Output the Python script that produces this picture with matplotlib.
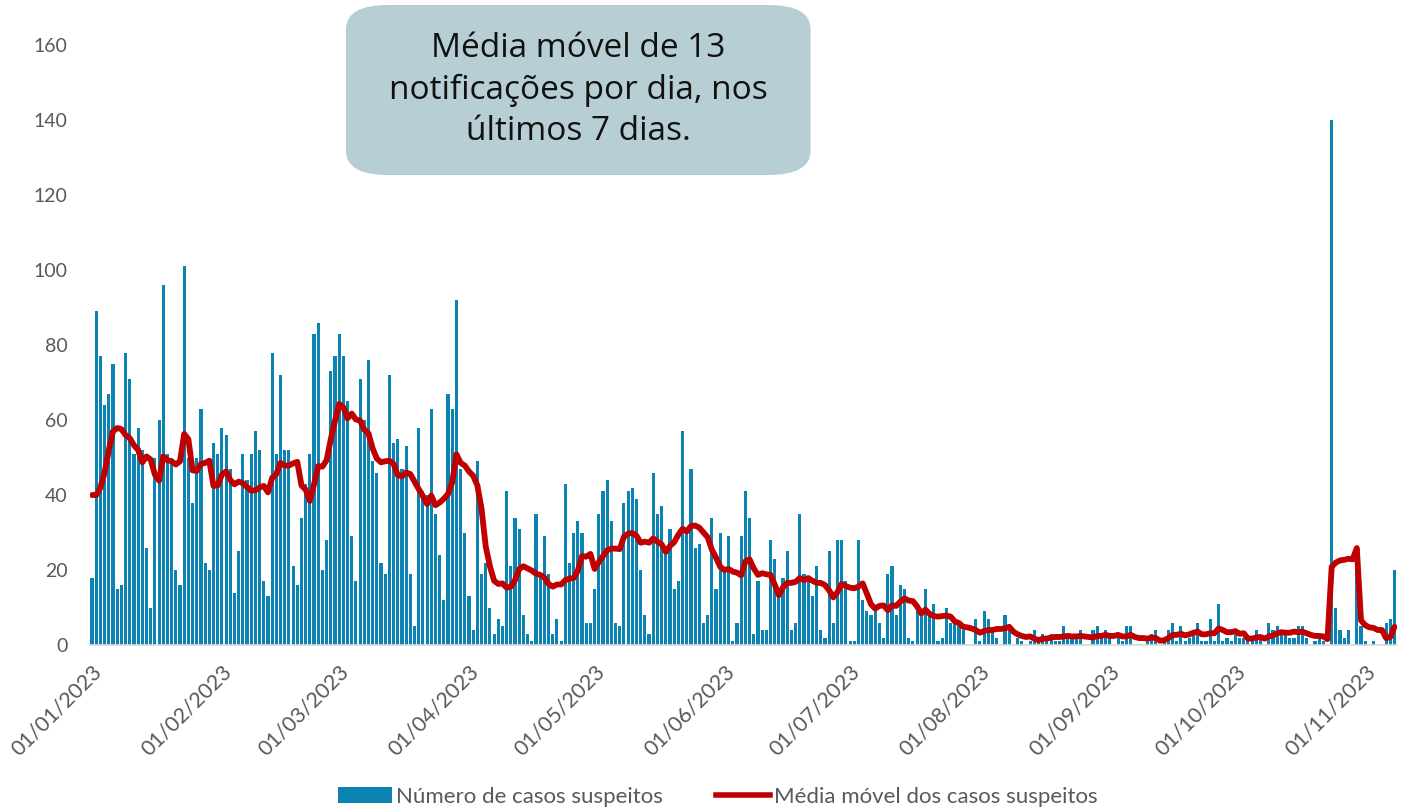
import matplotlib.pyplot as plt
import matplotlib.dates as mdates
from matplotlib.patches import FancyBboxPatch, Patch
from matplotlib.lines import Line2D
import pandas as pd

# casos suspeitos por dia, 01/01/2023 a 08/11/2023
casos = [
    18, 89, 77, 64, 67, 75, 15, 16, 78, 71, 51, 58, 52, 26, 10, 50, 60, 96, 51, 50,
    20, 16, 101, 50, 38, 50, 63, 22, 20, 54, 51, 58, 56, 47, 14, 25, 51, 44, 51, 57,
    52, 17, 13, 78, 51, 72, 52, 52, 21, 16, 34, 43, 51, 83, 86, 20, 28, 73, 77, 83,
    77, 65, 29, 17, 71, 60, 76, 49, 46, 22, 19, 72, 54, 55, 47, 53, 19, 5, 58, 41,
    40, 63, 35, 24, 12, 67, 63, 92, 47, 30, 13, 4, 49, 19, 22, 10, 3, 7, 5, 41,
    21, 34, 31, 8, 3, 1, 35, 19, 29, 19, 3, 7, 1, 43, 22, 30, 33, 30, 6, 6,
    15, 35, 41, 44, 33, 6, 5, 38, 41, 42, 39, 20, 8, 3, 46, 35, 37, 25, 31, 15,
    17, 57, 30, 47, 26, 27, 6, 8, 34, 15, 30, 20, 29, 1, 6, 29, 41, 34, 3, 17,
    4, 4, 28, 23, 14, 18, 25, 4, 6, 35, 19, 18, 13, 21, 4, 2, 25, 6, 28, 28,
    17, 1, 1, 28, 12, 9, 8, 9, 6, 2, 19, 21, 8, 16, 15, 2, 1, 9, 8, 15,
    8, 11, 1, 2, 10, 6, 6, 5, 4, 0, 0, 7, 1, 9, 7, 4, 2, 0, 8, 4,
    0, 2, 1, 0, 1, 4, 1, 3, 2, 3, 1, 1, 5, 2, 2, 2, 4, 0, 0, 4,
    5, 2, 4, 2, 0, 2, 1, 5, 5, 0, 0, 0, 1, 3, 4, 0, 1, 4, 6, 1,
    5, 1, 2, 4, 6, 1, 1, 7, 1, 11, 1, 2, 1, 3, 2, 2, 1, 1, 4, 2,
    0, 6, 4, 5, 3, 3, 2, 2, 5, 5, 2, 0, 1, 2, 1, 0, 140, 10, 4, 2,
    4, 0, 21, 5, 1, 0, 1, 0, 0, 6, 7, 20,
]
# primeiros dias da media movel (dependem de dados de dezembro)
media_inicio = [40, 40, 42, 46, 52, 57]

datas = pd.date_range("2023-01-01", periods=len(casos), freq="D")
media = pd.Series(casos, dtype=float).rolling(7).mean()
media.iloc[:len(media_inicio)] = media_inicio

plt.rcParams['font.family'] = ['Lato', 'DejaVu Sans']
cinza = '#595959'
azul = '#0B84B4'
vermelho = '#C00000'

fig = plt.figure(figsize=(14.08, 8.08), dpi=100)
ax = fig.add_axes([0.0639, 0.2017, 0.928, 0.7426])

ax.bar(datas, casos, width=0.75, color=azul, zorder=2)
ax.plot(datas, media, color=vermelho, lw=4.2, zorder=3,
        solid_capstyle='round', solid_joinstyle='round')

ax.set_ylim(0, 160)
ax.set_yticks(range(0, 161, 20))
ax.set_xlim(datas[0] - pd.Timedelta(hours=12), datas[-1] + pd.Timedelta(hours=12))
ax.xaxis.set_major_locator(mdates.MonthLocator())
ax.xaxis.set_major_formatter(mdates.DateFormatter('%d/%m/%Y'))

for s in ['top', 'right', 'left']:
    ax.spines[s].set_visible(False)
ax.spines['bottom'].set_color('#D9D9D9')
ax.spines['bottom'].set_linewidth(1.2)
ax.tick_params(axis='y', length=0, pad=16, labelsize=14, labelcolor=cinza)
ax.tick_params(axis='x', length=0, pad=12, labelsize=15.5, labelcolor=cinza)
for lab in ax.get_xticklabels():
    lab.set_rotation(45)
    lab.set_ha('right')
    lab.set_rotation_mode('anchor')

# caixa de texto
caixa = FancyBboxPatch((0.2457, 0.7834), 0.330, 0.2104, transform=fig.transFigure,
                       boxstyle='round,pad=0,rounding_size=0.03',
                       facecolor='#B6CED4', edgecolor='none', zorder=5)
fig.patches.append(caixa)
fig.text(0.2457 + 0.165, 0.7834 + 0.1052,
         'Média móvel de 13\nnotificações por dia, nos\núltimos 7 dias.',
         ha='center', va='center', fontsize=24, family='Open Sans',
         color='#111111', linespacing=1.32, zorder=6)

handles = [Patch(facecolor=azul, edgecolor='none'),
           Line2D([], [], color=vermelho, lw=4)]
fig.legend(handles, ['Número de casos suspeitos', 'Média móvel dos casos suspeitos'],
           loc='lower center', bbox_to_anchor=(0.51, -0.023), ncol=2, frameon=False,
           fontsize=16, labelcolor=cinza, handlelength=2.4, handleheight=0.7,
           handletextpad=0.2, columnspacing=2.4)

fig.savefig('out.png', dpi=100)
